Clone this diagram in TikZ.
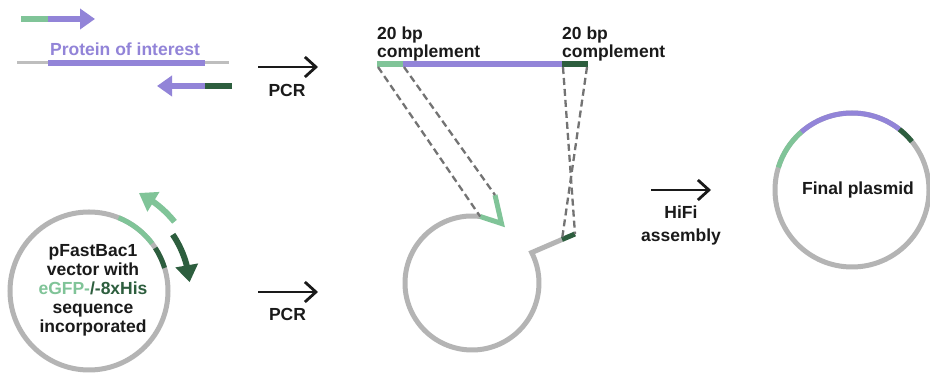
\documentclass[tikz,border=0pt]{standalone}
\usepackage{fontspec}
\setmainfont{Liberation Sans}
\usetikzlibrary{arrows.meta,bending}
\definecolor{lg}{RGB}{128,196,152}
\definecolor{dg}{RGB}{45,94,62}
\definecolor{pu}{RGB}{146,132,216}
\definecolor{cg}{RGB}{180,180,180}
\definecolor{lineg}{RGB}{190,190,190}
\definecolor{dsh}{RGB}{115,115,115}
\definecolor{txt}{RGB}{26,26,26}
\begin{document}
\begin{tikzpicture}[x=1pt,y=1pt,
  lbl/.style={font=\bfseries\fontsize{17.5}{19}\selectfont, text=txt, inner sep=0pt, align=center},
  bar/.style={line width=6pt},
  ring/.style={line width=5pt, draw=cg},
  seg/.style={line width=5pt},
  pcrarrow/.style={line width=2.8pt, draw=txt, -{Straight Barb[length=11pt,width=20pt]}},
  guide/.style={draw=dsh, line width=2.3pt, dash pattern=on 7pt off 4pt},
  primer/.style={line width=6pt, -{Triangle[length=15pt,width=20pt]}},
  arcprimer/.style={line width=6pt, -{Triangle[length=17pt,width=22pt]}},
]
\useasboundingbox (0,0) rectangle (930,374);
\fill[white] (0,0) rectangle (930,374);

% ---------- top left: gene and primers ----------
\coordinate (fp0) at (21,355);
\coordinate (fp1) at (48,355);
\coordinate (fp2) at (95,355);
\draw[bar, lg] (fp0) -- (fp1);
\draw[primer, pu] (fp1) -- (fp2);

\node[lbl, text=pu] (poi) at (125,325) {Protein of interest};

\coordinate (g0) at (17,311);
\coordinate (g1) at (229,311);
\coordinate (p0) at (48,311);
\coordinate (p1) at (205,311);
\draw[line width=3pt, draw=lineg] (g0) -- (g1);
\draw[bar, pu] (p0) -- (p1);

\coordinate (rp0) at (232,288);
\coordinate (rp1) at (205,288);
\coordinate (rp2) at (157,288);
\draw[bar, dg] (rp0) -- (rp1);
\draw[primer, pu] (rp1) -- (rp2);

% PCR arrow (top)
\coordinate (a1s) at (258,307);
\coordinate (a1e) at (318,307);
\draw[pcrarrow] (a1s) -- (a1e);
\node[lbl] (pcr1) at (287,284) {PCR};

% ---------- top middle: PCR product ----------
\node[lbl, align=left, anchor=north west, font=\bfseries\fontsize{17.5}{18}\selectfont] (comp1) at (377,347) {20 bp\\complement};
\node[lbl, align=left, anchor=north west, font=\bfseries\fontsize{17.5}{18}\selectfont] (comp2) at (562,347) {20 bp\\complement};

\coordinate (c0) at (377,310);
\coordinate (c1) at (403,310);
\coordinate (c2) at (562,310);
\coordinate (c3) at (588,310);
\draw[bar, lg] (c0) -- (c1);
\draw[bar, pu] (c1) -- (c2);
\draw[bar, dg] (c2) -- (c3);

\coordinate (d0) at (378,307);
\coordinate (d1) at (404,307);
\coordinate (d2) at (563,307);
\coordinate (d3) at (587,307);

% ---------- middle: linearised vector ----------
\coordinate (m) at (472,91);
\coordinate (vA) at ([shift={(83:67)}]m);
\coordinate (vT) at (501.5,150.5);
\coordinate (vB) at (495,179);
\coordinate (stub) at (562,134.5);
\coordinate (stubE) at (575,140);
\draw[ring] (vA) arc[start angle=83, end angle=387, radius=67] -- (stub);
\draw[seg, lg, line join=miter] (vA) -- (vT) -- (vB);
\draw[seg, dg] (stub) -- (stubE);

\draw[guide] (d0) -- (vA);
\draw[guide] (d1) -- (vB);
\draw[guide] (d2) -- (stubE);
\draw[guide] (d3) -- (stub);

% ---------- bottom left: pFastBac1 vector ----------
\coordinate (L) at (89,83);
\draw[ring] (L) circle[radius=79];
\draw[seg, lg] ([shift={(68:79)}]L) arc[start angle=68, end angle=37, radius=79];
\draw[seg, dg] ([shift={(33:79)}]L) arc[start angle=33, end angle=17, radius=79];
\draw[arcprimer, lg] ([shift={(39:110)}]L) arc[start angle=39, end angle=63, radius=110];
\draw[arcprimer, dg] ([shift={(34:101)}]L) arc[start angle=34, end angle=5, radius=101];
\node[lbl] (vec) at (93,84) {pFastBac1\\vector with\\{\color{lg}eGFP-}{\color{dg}/-8xHis}\\sequence\\incorporated};

% PCR arrow (bottom)
\coordinate (a2s) at (258,82);
\coordinate (a2e) at (318,82);
\draw[pcrarrow] (a2s) -- (a2e);
\node[lbl] (pcr2) at (287.5,59.5) {PCR};

% ---------- HiFi assembly ----------
\coordinate (a3s) at (651,184);
\coordinate (a3e) at (711,184);
\draw[pcrarrow] (a3s) -- (a3e);
\node[lbl, anchor=north, font=\bfseries\fontsize{17.5}{23}\selectfont] (hifi) at (681,168) {HiFi\\assembly};

% ---------- final plasmid ----------
\coordinate (F) at (852,184);
\draw[ring] (F) circle[radius=77];
\draw[seg, lg] ([shift={(163:77)}]F) arc[start angle=163, end angle=131, radius=77];
\draw[seg, pu] ([shift={(131:77)}]F) arc[start angle=131, end angle=52, radius=77];
\draw[seg, dg] ([shift={(52:77)}]F) arc[start angle=52, end angle=39, radius=77];
\node[lbl] (fin) at (858,184) {Final plasmid};
\end{tikzpicture}
\end{document}
